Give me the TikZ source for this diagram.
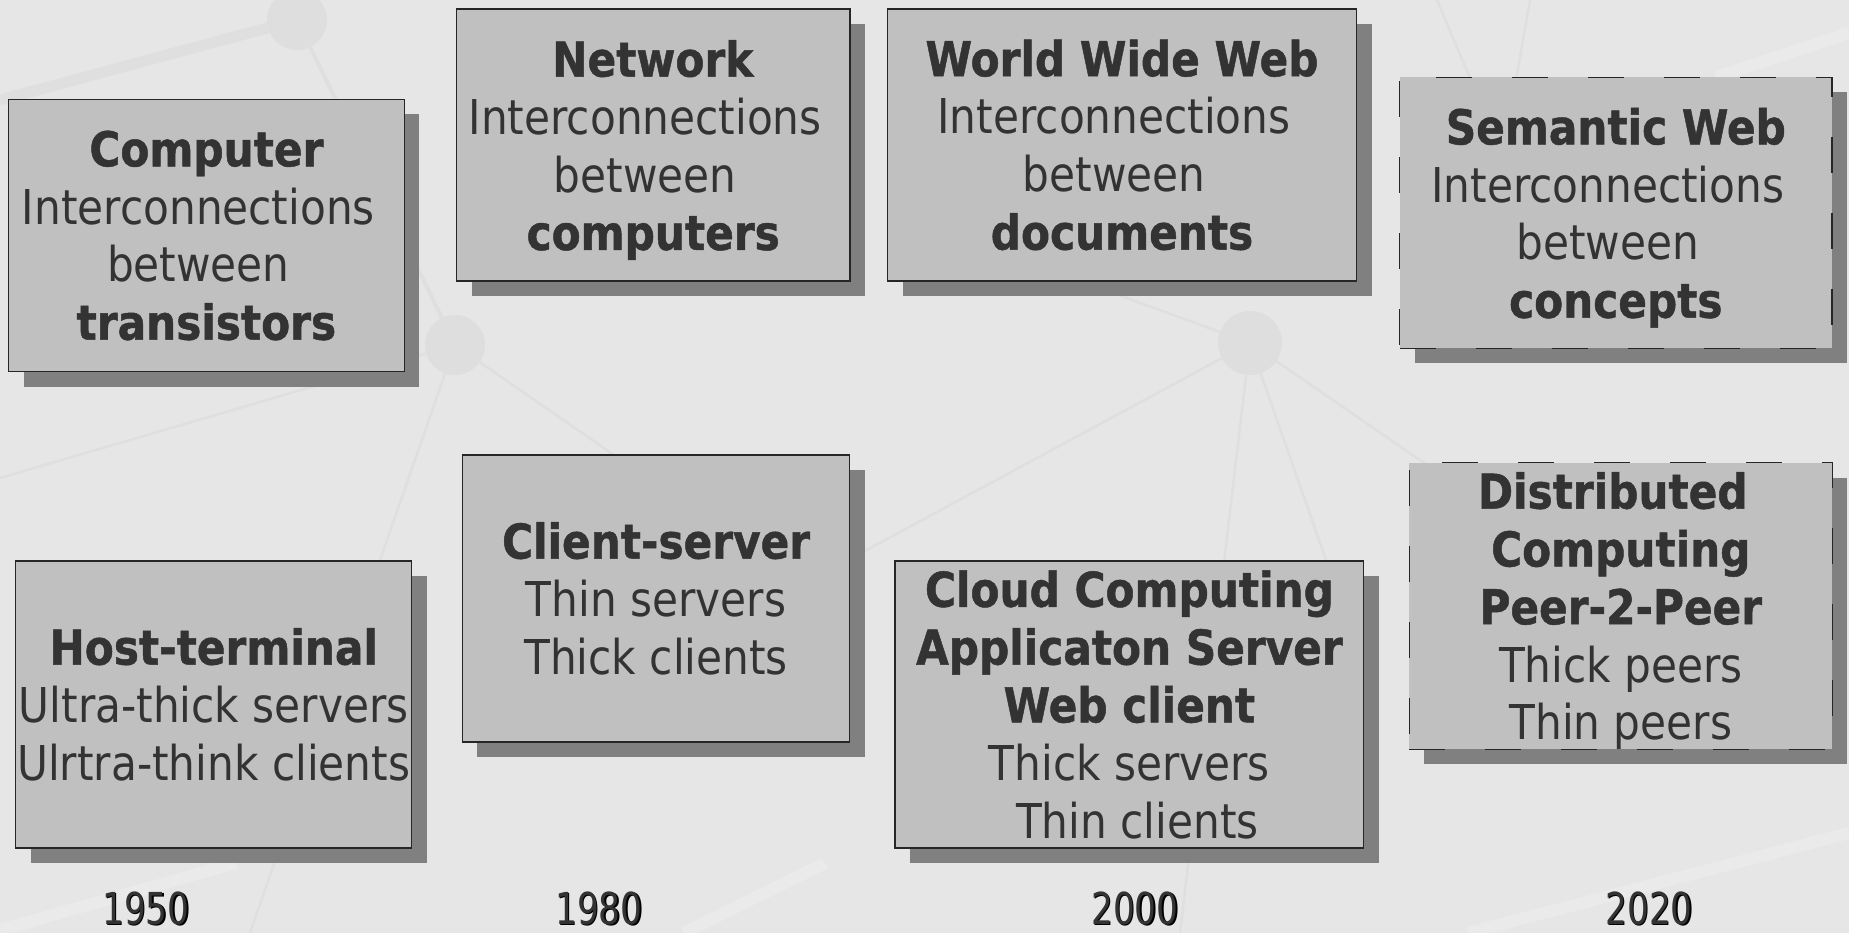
\documentclass[tikz,border=0pt]{standalone}
\usepackage{fontspec}
\setmainfont{DejaVu Sans}[FakeStretch=0.88, BoldFeatures={FakeBold=1}]
\newfontfamily\yearfont{DejaVu Sans}[FakeStretch=0.78]
\usetikzlibrary{shadows}

\definecolor{bgcol}{HTML}{E6E6E6}
\definecolor{netcol}{HTML}{DFDFDF}
\definecolor{hubcol}{HTML}{DDDEDD}
\definecolor{netlight}{HTML}{EAEAEA}
\definecolor{boxfill}{HTML}{C0C0C0}
\definecolor{boxshadow}{HTML}{808080}
\definecolor{ink}{HTML}{333333}
\definecolor{rim}{HTML}{262626}

% trailing blank kept at the end of a centred line
\newcommand{\tsp}{\kern16pt}

\tikzset{
  era/.style={draw=rim, line width=1.3pt, fill=boxfill, text=ink, align=center,
    inner sep=0pt, font=\fontsize{48}{57.8}\selectfont,
    general shadow={fill=boxshadow, shadow xshift=15pt, shadow yshift=-15pt}},
  future/.style={era, dash pattern=on 36pt off 40pt},
  yearlbl/.style={text=ink, inner sep=0pt, font=\yearfont\fontsize{44}{50}\selectfont},
  yearshade/.style={text=black, inner sep=0pt, font=\yearfont\fontsize{44}{50}\selectfont},
  link/.style={draw=netcol, line width=2.5pt},
  band/.style={draw=netlight, line width=12pt},
  hub/.style={circle, fill=hubcol, minimum size=60pt, inner sep=0pt}
}

\begin{document}
\begin{tikzpicture}[x=1pt, y=-1pt]
  \fill[bgcol] (0,0) rectangle (1849,933);
  \useasboundingbox (0,0) rectangle (1849,933);

  % faint network in the background
  \node[hub] (hubA) at (297,20) {};
  \node[hub] (hubB) at (455,345) {};
  \node[hub, minimum size=64pt] (hubC) at (1250,343) {};
  \coordinate (wA) at (0,100);
  \coordinate (wB) at (0,478);
  \coordinate (sB1) at (650,480);
  \coordinate (sB2) at (250,933);
  \coordinate (nC1) at (1105,290);
  \coordinate (sC1) at (700,640);
  \coordinate (sC2) at (1180,933);
  \coordinate (sC3) at (1340,600);
  \coordinate (sC4) at (1430,467);
  \coordinate (tR1) at (1437,0);
  \coordinate (tR2) at (1475,90);
  \coordinate (tR3) at (1530,0);
  \coordinate (tR4) at (1516,80);
  \coordinate (bR1) at (1468,933);
  \coordinate (bR2) at (1849,833);
  \coordinate (bL1) at (0,930);
  \coordinate (bL2) at (236,863);
  \coordinate (bM1) at (684,933);
  \coordinate (bM2) at (825,863);
  \coordinate (uR1) at (1716,77);
  \coordinate (uR2) at (1849,33);
  \draw[band] (bR1) -- (bR2);
  \draw[band] (bL1) -- (bL2);
  \draw[band] (bM1) -- (bM2);
  \draw[band] (uR1) -- (uR2);
  \draw[link, line width=11pt] (hubA) -- (wA);
  \draw[link, line width=4pt] (hubA) -- (hubB);
  \draw[link] (hubB) -- (wB);
  \draw[link] (hubB) -- (sB1);
  \draw[link] (hubB) -- (sB2);
  \draw[link] (hubC) -- (nC1);
  \draw[link] (hubC) -- (sC1);
  \draw[link] (hubC) -- (sC2);
  \draw[link] (hubC) -- (sC3);
  \draw[link] (hubC) -- (sC4);
  \draw[link] (tR1) -- (tR2);
  \draw[link] (tR3) -- (tR4);

  % upper row: what gets interconnected
  \node[era, minimum width=395.5pt, minimum height=272.4pt] (computer) at (206.4,235.5)
    {\textbf{Computer}\\Interconnections\tsp\\between\tsp\\\textbf{transistors}};
  \node[era, minimum width=393.3pt, minimum height=272pt] (network) at (653.2,145)
    {\textbf{Network}\\Interconnections\tsp\\between\tsp\\\smash{\textbf{computers}}};
  \node[era, minimum width=469pt, minimum height=272pt] (www) at (1122,145)
    {\textbf{World Wide Web}\\Interconnections\tsp\\between\tsp\\\textbf{documents}};
  \node[future, minimum width=432.5pt, minimum height=271pt] (semweb) at (1615.8,212.8)
    {\textbf{Semantic Web}\\Interconnections\tsp\\between\tsp\\\smash{\textbf{concepts}}};

  % lower row: computing architectures
  \node[era, minimum width=396pt, minimum height=287pt] (host) at (213.7,704.5)
    {\textbf{Host-terminal}\\Ultra-thick servers\\Ulrtra-think clients};
  \node[era, minimum width=387.4pt, minimum height=287pt] (clsrv) at (656.1,598.5)
    {\textbf{Client-server}\\Thin servers\\Thick clients};
  \node[era, minimum width=468.8pt, minimum height=287pt] (cloud) at (1129.4,704.5)
    {\textbf{Cloud Computing}\\\textbf{Applicaton Server}\\\textbf{Web client}\\Thick servers\\\hspace*{16pt}Thin clients};
  \node[future, minimum width=423pt, minimum height=286.5pt] (p2p) at (1620.8,606)
    {\textbf{Distributed}\tsp\\\textbf{Computing}\\\textbf{Peer-2-Peer}\\Thick peers\\\smash{Thin peers}};

  % years along the bottom
  \node[yearshade] (y1950s) at (147.5,909.5) {1950};
  \node[yearlbl]   (y1950)  at (146,908) {1950};
  \node[yearshade] (y1980s) at (600.5,909.5) {1980};
  \node[yearlbl]   (y1980)  at (599,908) {1980};
  \node[yearshade] (y2000s) at (1136.5,909.5) {2000};
  \node[yearlbl]   (y2000)  at (1135,908) {2000};
  \node[yearshade] (y2020s) at (1650.5,909.5) {2020};
  \node[yearlbl]   (y2020)  at (1649,908) {2020};
\end{tikzpicture}
\end{document}
